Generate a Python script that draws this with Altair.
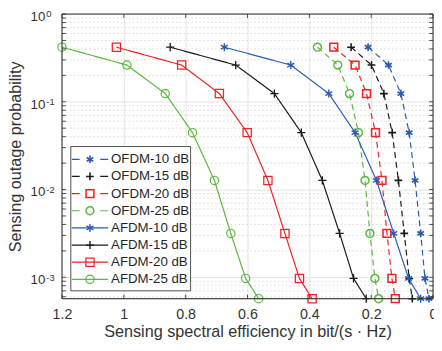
import altair as alt
import pandas as pd

series_names = ["OFDM-10 dB", "OFDM-15 dB", "OFDM-20 dB", "OFDM-25 dB",
                "AFDM-10 dB", "AFDM-15 dB", "AFDM-20 dB", "AFDM-25 dB"]
y_levels = [0.419, 0.262, 0.124, 0.0445, 0.0127, 0.00316, 0.00097, 0.00057]
x_ofdm10 = [0.210, 0.144, 0.104, 0.077, 0.058, 0.040, 0.026, 0.013]
x_ofdm15 = [0.265, 0.199, 0.159, 0.132, 0.112, 0.093, 0.077, 0.067]
x_ofdm20 = [0.321, 0.252, 0.215, 0.186, 0.165, 0.149, 0.133, 0.122]
x_ofdm25 = [0.374, 0.308, 0.270, 0.241, 0.220, 0.204, 0.188, 0.176]
x_afdm10 = [0.675, 0.460, 0.337, 0.252, 0.183, 0.127, 0.079, 0.040]
x_afdm15 = [0.850, 0.638, 0.513, 0.426, 0.358, 0.302, 0.257, 0.216]
x_afdm20 = [1.024, 0.813, 0.691, 0.601, 0.534, 0.479, 0.432, 0.391]
x_afdm25 = [1.200, 0.990, 0.866, 0.778, 0.707, 0.654, 0.606, 0.564]
all_x = [x_ofdm10, x_ofdm15, x_ofdm20, x_ofdm25, x_afdm10, x_afdm15, x_afdm20, x_afdm25]

x_ticks = [0, 0.2, 0.4, 0.6, 0.8, 1.0, 1.2]
y_major = [1, 0.1, 0.01, 0.001]
y_exp = ["0", "-1", "-2", "-3"]
y_minor = [m * d for d in [1e-4, 1e-3, 1e-2, 1e-1] for m in range(2, 10) if 5.7e-4 <= m * d < 1]
y_all_ticks = y_major + y_minor

W, H = 378, 290
BLUE, BLACK, RED, GREEN = "#2d5bb0", "#1a1a1a", "#f02323", "#5ab83c"
colors = [BLUE, BLACK, RED, GREEN] * 2
ASTER = "M0,-1L0,1M-0.866,-0.5L0.866,0.5M-0.866,0.5L0.866,-0.5"
PLUS = "M-1,0L1,0M0,-1L0,1"
shapes = [ASTER, PLUS, "square", "circle"] * 2
sizes = [60, 72, 36, 40] * 2
swidths = [1.7, 1.2, 1.1, 1.1] * 2
dash_plot = [[6, 4]] * 4 + [[1, 0]] * 4
dash_leg = [[8, 21]] * 4 + [[1, 0]] * 4

rows = []
for name, xs in zip(series_names, all_x):
    for xv, yv in zip(xs, y_levels):
        rows.append({"series": name, "x": xv, "y": yv})
df = pd.DataFrame(rows)

FONT = "Liberation Sans"
TXT = "#333333"
yscale = alt.Scale(type="log", domain=[5.7e-4, 1], nice=False)
xscale = alt.Scale(domain=[0, 1.2], reverse=True, nice=False, zero=False)
col = alt.Color("series:N", scale=alt.Scale(domain=series_names, range=colors), legend=None)
shp = alt.Shape("series:N", scale=alt.Scale(domain=series_names, range=shapes), legend=None)
siz = alt.Size("series:N", scale=alt.Scale(domain=series_names, range=sizes), legend=None)
sw = alt.StrokeWidth("series:N", scale=alt.Scale(domain=series_names, range=swidths), legend=None)

minor_grid = alt.Chart(pd.DataFrame({"v": y_minor})).mark_rule(
    color="#d0d0d0", strokeWidth=0.8, strokeDash=[1.5, 2.5]
).encode(y=alt.Y("v:Q", scale=yscale, axis=None), x=alt.value(0), x2=alt.value(W))

lines = alt.Chart(df).mark_line(strokeWidth=1.2).encode(
    x=alt.X("x:Q", scale=xscale,
            axis=alt.Axis(values=x_ticks, format="~g", grid=True, gridColor="#e3e3e3",
                          ticks=False, domain=False, labelFont=FONT, labelFontSize=14.5,
                          labelColor=TXT, labelPadding=9.5, labelFlush=False,
                          labelOverlap=False,
                          title="Sensing spectral efficiency in bit/(s \u00b7 Hz)",
                          titleFont=FONT, titleFontSize=16.5, titleFontWeight="normal",
                          titleColor=TXT, titleY=38.5, titleBaseline="alphabetic")),
    y=alt.Y("y:Q", scale=yscale,
            axis=alt.Axis(values=y_major, grid=True, gridColor="#e3e3e3", labels=False,
                          ticks=False, domain=False, title="Sensing outage probability",
                          titleFont=FONT, titleFontSize=16.5, titleFontWeight="normal",
                          titleColor=TXT, titleX=-47, titleY=H / 2, titleAngle=-90,
                          titleBaseline="middle", titleAlign="center")),
    color=col,
    strokeDash=alt.StrokeDash("series:N", scale=alt.Scale(domain=series_names, range=dash_plot), legend=None),
    detail="series:N",
)

points = alt.Chart(df).mark_point(filled=False, opacity=1).encode(
    x=alt.X("x:Q", scale=xscale),
    y=alt.Y("y:Q", scale=yscale, axis=None),
    color=col, shape=shp, size=siz, strokeWidth=sw,
)

tick_df = pd.DataFrame({"v": y_all_ticks})
yt_left = alt.Chart(tick_df).mark_rule(color="#262626", strokeWidth=0.8).encode(
    y=alt.Y("v:Q", scale=yscale, axis=None), x=alt.value(0), x2=alt.value(4))
yt_right = alt.Chart(tick_df).mark_rule(color="#262626", strokeWidth=0.8).encode(
    y=alt.Y("v:Q", scale=yscale, axis=None), x=alt.value(W - 4), x2=alt.value(W))
xt_df = pd.DataFrame({"v": x_ticks})
xt_bot = alt.Chart(xt_df).mark_rule(color="#262626", strokeWidth=0.8).encode(
    x=alt.X("v:Q", scale=xscale), y=alt.value(H - 4), y2=alt.value(H))
xt_top = alt.Chart(xt_df).mark_rule(color="#262626", strokeWidth=0.8).encode(
    x=alt.X("v:Q", scale=xscale), y=alt.value(0), y2=alt.value(4))

lab_df = pd.DataFrame({"v": y_major, "e": y_exp})
lab10 = alt.Chart(lab_df).mark_text(align="right", baseline="middle", font=FONT,
                                    fontSize=13.5, color=TXT, dy=3).encode(
    y=alt.Y("v:Q", scale=yscale, axis=None), x=alt.value(-17), text=alt.value("10"))
labexp = alt.Chart(lab_df).mark_text(align="left", baseline="middle", font=FONT,
                                     fontSize=9.5, color=TXT, dy=0.5).encode(
    y=alt.Y("v:Q", scale=yscale, axis=None), x=alt.value(-16), text="e:N")

border = alt.Chart(pd.DataFrame({"a": [0]})).mark_rect(
    fillOpacity=0, stroke="#262626", strokeWidth=1).encode(
    x=alt.value(0), x2=alt.value(W), y=alt.value(0), y2=alt.value(H))

LB = H - 8
LT = LB - 147
leg_box = alt.Chart(pd.DataFrame({"a": [0]})).mark_rect(
    fill="white", stroke="#262626", strokeWidth=0.8).encode(
    x=alt.value(9), x2=alt.value(131), y=alt.value(LT), y2=alt.value(LB))

leg_df = pd.DataFrame({"series": series_names})
leg_y = alt.Y("series:N", scale=alt.Scale(type="point", domain=series_names,
                                          range=[LT + 13, LB - 11.7], padding=0), axis=None)
leg_rule = alt.Chart(leg_df).mark_rule(strokeWidth=1.2).encode(
    y=leg_y, x=alt.value(10), x2=alt.value(47), color=col,
    strokeDash=alt.StrokeDash("series:N", scale=alt.Scale(domain=series_names, range=dash_leg), legend=None))
leg_pt = alt.Chart(leg_df).mark_point(filled=False, opacity=1).encode(
    y=leg_y, x=alt.value(28.5), color=col, shape=shp, size=siz, strokeWidth=sw)
leg_txt = alt.Chart(leg_df).mark_text(align="left", baseline="middle", font=FONT,
                                      fontSize=13.5, color="#262626").encode(
    y=leg_y, x=alt.value(50), text="series:N")

chart = alt.layer(
    minor_grid, lines, points, yt_left, yt_right, xt_bot, xt_top, lab10, labexp,
    border, leg_box, leg_rule, leg_pt, leg_txt
).resolve_scale(y="independent", strokeDash="independent").properties(
    width=W, height=H, autosize=alt.AutoSizeParams(type="none"),
    padding={"left": 55, "top": 3, "right": 1, "bottom": 42},
).configure_view(stroke=None).configure(background="white")

chart.save("out.html", embed_options={"renderer": "svg", "actions": False})
